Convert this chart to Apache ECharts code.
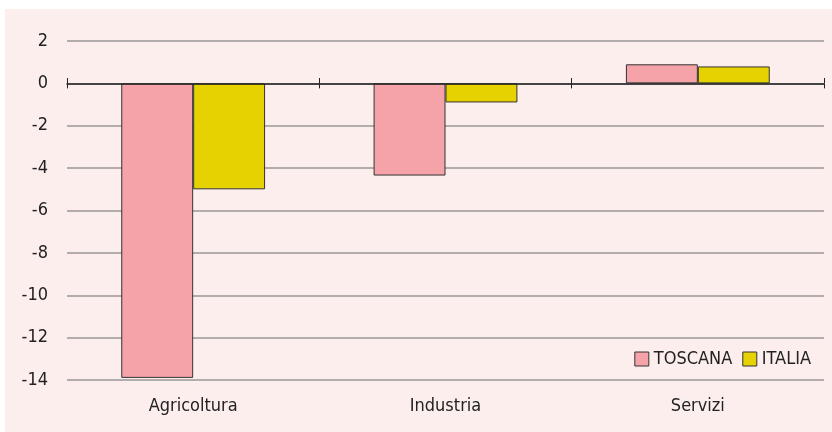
<!DOCTYPE html>
<html>
<head>
<meta charset="utf-8">
<script src="https://cdn.jsdelivr.net/npm/echarts@6/dist/echarts.min.js"></script>
<style>
html, body { margin: 0; padding: 0; background: #fff; }
#main { width: 832px; height: 432px; }
</style>
</head>
<body>
<div id="main"></div>
<script>
// dati
var categorie = ['Agricoltura', 'Industria', 'Servizi'];
var toscana = [-13.9, -4.35, 0.9];
var italia = [-5.0, -0.9, 0.8];
var nomiSerie = ['TOSCANA', 'ITALIA'];

var font = '"DejaVu Sans Condensed", "Liberation Sans", sans-serif';
var myChart = echarts.init(document.getElementById('main'));
var option = {
    backgroundColor: '#ffffff',
    animation: false,
    graphic: [{
        type: 'rect',
        z: -10,
        shape: { x: 5, y: 9, width: 827, height: 423 },
        style: { fill: '#fdeeee' }
    }],
    grid: { left: 67, right: 8, top: 41, bottom: 52 },
    legend: {
        data: nomiSerie,
        icon: 'rect',
        right: 16,
        top: 345,
        itemWidth: 14,
        itemHeight: 14,
        itemGap: 10,
        itemStyle: { borderColor: '#333', borderWidth: 1 },
        textStyle: { fontFamily: font, fontSize: 18, color: '#222' }
    },
    xAxis: [
        {
            type: 'category',
            data: categorie,
            position: 'bottom',
            axisLine: { onZero: true, lineStyle: { color: '#222', width: 1.5 } },
            axisTick: { show: true, length: 5, lineStyle: { color: '#222' } },
            axisLabel: { show: false },
            z: 5
        },
        {
            type: 'category',
            data: categorie,
            position: 'top',
            offset: -42,
            axisLine: { show: false },
            axisTick: { show: true, length: 5, lineStyle: { color: '#222' } },
            axisLabel: { show: false }
        },
        {
            type: 'category',
            data: categorie,
            position: 'bottom',
            axisLine: { onZero: false, show: false },
            axisTick: { show: false },
            axisLabel: { fontFamily: font, fontSize: 18, color: '#222', margin: 17 }
        }
    ],
    yAxis: {
        type: 'value',
        min: -14,
        max: 2,
        interval: 2,
        axisLine: { show: false },
        axisTick: { show: false },
        axisLabel: { fontFamily: font, fontSize: 18, color: '#222', margin: 19 },
        splitLine: { lineStyle: { color: '#9a9696', width: 1.5 } }
    },
    series: [
        {
            name: nomiSerie[0],
            type: 'bar',
            xAxisIndex: 0,
            data: toscana,
            barGap: '0%',
            barCategoryGap: '43%',
            itemStyle: { color: '#f5a3a9', borderColor: '#333', borderWidth: 1 }
        },
        {
            name: nomiSerie[1],
            type: 'bar',
            xAxisIndex: 0,
            data: italia,
            barGap: '0%',
            barCategoryGap: '43%',
            itemStyle: { color: '#e6d200', borderColor: '#333', borderWidth: 1 }
        }
    ]
};
myChart.setOption(option);
</script>
</body>
</html>
